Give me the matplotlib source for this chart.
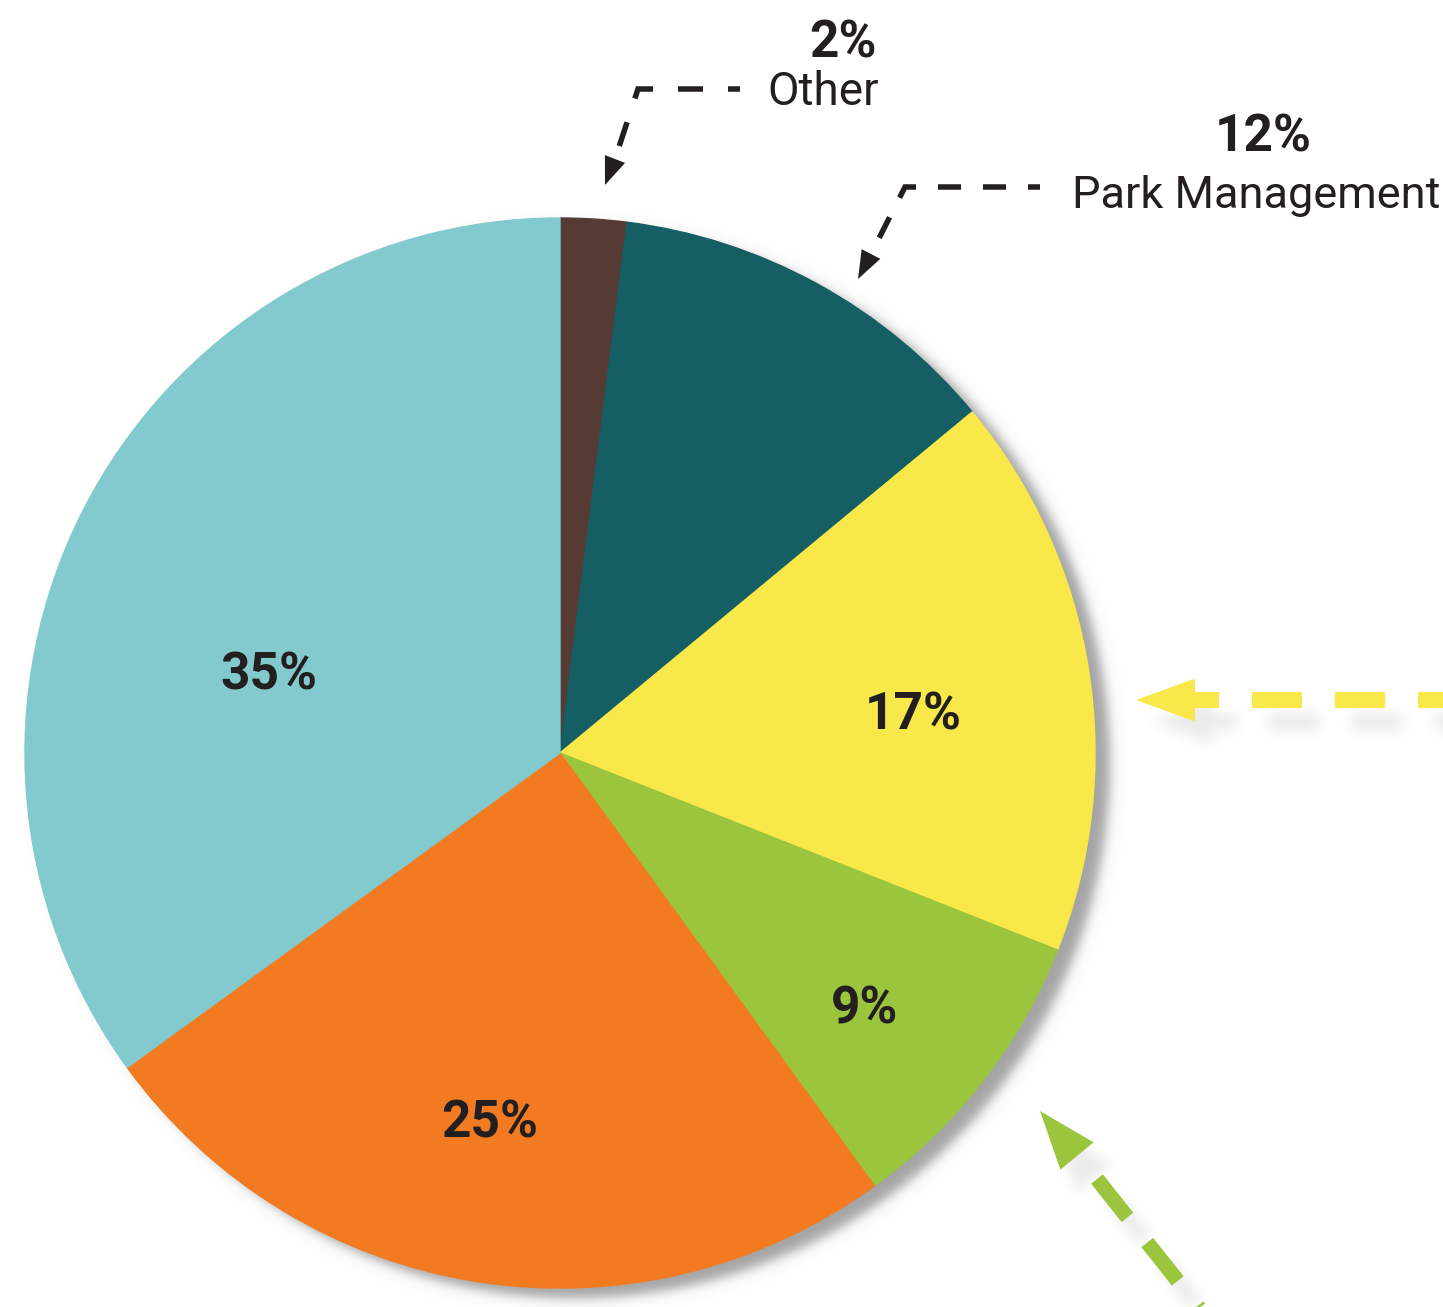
import numpy as np
import matplotlib
matplotlib.use("Agg")
import matplotlib.pyplot as plt
from matplotlib.patches import Polygon
from matplotlib.lines import Line2D

plt.rcParams['lines.scale_dashes'] = False

# ---------------- data ----------------
categories = ["Other", "Park Management", "Slice 3", "Slice 4", "Slice 5", "Slice 6"]
values = [2, 12, 17, 9, 25, 35]
colors = ["#553B33", "#155E63", "#F8E84A", "#9BC53D", "#F27B22", "#82CACD"]
outside_labels = ["Other", "Park Management"]

# ---------------- layout ----------------
W, H = 1443, 1307
cx, cy, R = 560, 753, 535
TXT = "#231F20"
FONT = ["Roboto", "DejaVu Sans"]


def px(v):
    return v * 72.0 / 100.0


fig = plt.figure(figsize=(W / 100, H / 100), dpi=100)
ax = fig.add_axes([0, 0, 1, 1])


def unit(a, b):
    v = np.array(b, float) - np.array(a, float)
    return v / np.hypot(*v)


def head(axx, tip, base, half, color, off=(0, 0), z=5):
    tip = np.array(tip, float) + off
    base = np.array(base, float) + off
    u = unit(base, tip)
    n = np.array([-u[1], u[0]])
    pts = [tip, base + n * half, base - n * half]
    axx.add_patch(Polygon(pts, closed=True, facecolor=color, edgecolor='none', zorder=z))


def dline(axx, pts, lw, on, offp, start, color, off=(0, 0), z=4):
    pts = np.array(pts, float) + off
    axx.add_line(Line2D(pts[:, 0], pts[:, 1], lw=px(lw), color=color,
                        linestyle=(px(start), (px(on), px(offp))),
                        solid_capstyle='butt', dash_capstyle='butt',
                        dash_joinstyle='miter', solid_joinstyle='miter', zorder=z))


def big_arrows(axx, color_y, color_g, off=(0, 0)):
    # yellow horizontal arrow
    dline(axx, [(1169, 700), (1470, 700)], 16, 50, 33, 0, color_y, off)
    head(axx, (1136, 700), (1195, 700), 21.5, color_y, off)
    # green diagonal arrow
    u = unit((1097, 1179), (1177, 1280))
    p0 = np.array([1097, 1179], float)
    dline(axx, [p0, p0 + u * 260], 15, 49, 32, 0, color_g, off)
    head(axx, (1040, 1111), (1077, 1156), 21.5, color_g, off)


# ---- soft shadow for the big arrows (rendered, then blurred) ----
fig2 = plt.figure(figsize=(W / 100, H / 100), dpi=100)
ax2 = fig2.add_axes([0, 0, 1, 1])
ax2.set_xlim(0, W)
ax2.set_ylim(H, 0)
ax2.axis('off')
big_arrows(ax2, 'black', 'black', off=(17, 22))
fig2.canvas.draw()
mask = 1.0 - np.asarray(fig2.canvas.buffer_rgba())[..., 0].astype(float) / 255.0
plt.close(fig2)


def box_blur(a, r):
    for axis in (0, 1):
        pad = [(0, 0), (0, 0)]
        pad[axis] = (r + 1, r)
        c = np.cumsum(np.pad(a, pad, mode='edge'), axis=axis)
        if axis == 0:
            a = (c[2 * r + 1:, :] - c[:-2 * r - 1, :]) / (2 * r + 1)
        else:
            a = (c[:, 2 * r + 1:] - c[:, :-2 * r - 1]) / (2 * r + 1)
    return a


for _ in range(3):
    mask = box_blur(mask, 5)
ashadow = np.zeros((H, W, 4))
ashadow[..., :3] = 0.35
ashadow[..., 3] = np.clip(mask * 0.12, 0, 1)
ax.imshow(ashadow, extent=(0, W, H, 0), origin='upper', zorder=0.5, interpolation='bilinear')

# ---- pie drop shadow ----
yy, xx = np.mgrid[0:H, 0:W] + 0.5
d = np.hypot(xx - (cx + 15), yy - (cy + 10)) - R
a = 1.0 / (1.0 + np.exp(np.clip(d / 3.5, -60, 60)))
pshadow = np.zeros((H, W, 4))
pshadow[..., :3] = 0.64
pshadow[..., 3] = a
ax.imshow(pshadow, extent=(0, W, H, 0), origin='upper', zorder=1, interpolation='bilinear')

# ---- pie (y axis inverted -> counterclock=True draws clockwise on screen) ----
wedges, _ = ax.pie(values, colors=colors, startangle=-90, counterclock=True,
                   center=(cx, cy), radius=R, frame=True,
                   wedgeprops=dict(linewidth=1.0))
for w, c in zip(wedges, colors):
    w.set_edgecolor(c)
    w.set_zorder(2)

# percentage labels inside slices
inside_pos = {2: (913, 730), 3: (865, 1024), 4: (490, 1137), 5: (269, 690)}
for i, (x, y) in inside_pos.items():
    ax.text(x, y, f"{values[i]}%", ha='center', va='baseline', fontsize=37,
            fontweight='bold', color=TXT, family=FONT, zorder=6)

# outside labels
ax.text(877, 57, f"{values[0]}%", ha='right', va='baseline', fontsize=37,
        fontweight='bold', color=TXT, family=FONT)
ax.text(879, 105, outside_labels[0], ha='right', va='baseline', fontsize=33,
        color=TXT, family=FONT)
ax.text(1263, 152, f"{values[1]}%", ha='center', va='baseline', fontsize=37,
        fontweight='bold', color=TXT, family=FONT)
ax.text(1440, 208, outside_labels[1], ha='right', va='baseline', fontsize=32.5,
        color=TXT, family=FONT)

# black dashed leader arrows
dline(ax, [(740, 89), (638, 89), (615, 159)], 5.5, 25, 25, 13, TXT)
head(ax, (605, 185), (615, 159), 10.8, TXT)
dline(ax, [(1040, 187), (905, 187), (871, 254)], 5.5, 23, 22, 11, TXT)
head(ax, (858, 279), (871, 254), 10.5, TXT)

# big coloured arrows
big_arrows(ax, colors[2], colors[3])

ax.set_xlim(0, W)
ax.set_ylim(H, 0)
ax.set_aspect('auto')
ax.axis('off')

fig.savefig("out.png", dpi=100, facecolor='white')
